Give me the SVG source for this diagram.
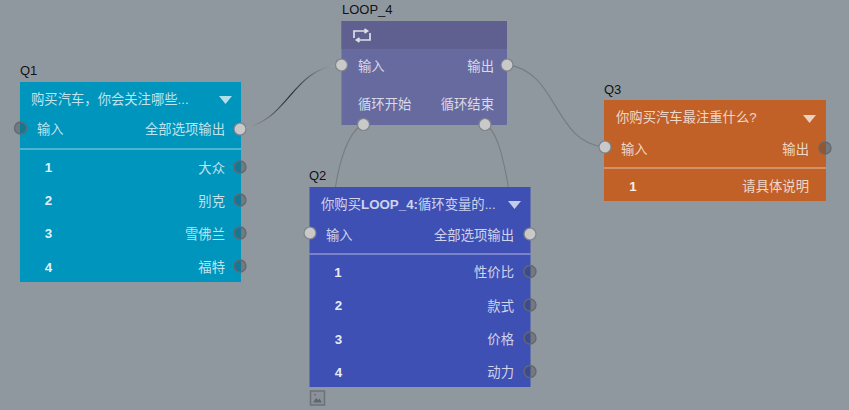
<svg xmlns="http://www.w3.org/2000/svg" width="849" height="410" viewBox="0 0 849 410">
<style>
text{font-family:"Liberation Sans","Noto Sans CJK SC",sans-serif;font-size:13.330px;fill:#fff;fill-opacity:.75}
.id{fill:#000;fill-opacity:.9;font-size:13px}
.n{font-weight:bold;fill-opacity:.9;text-anchor:middle}
.e{text-anchor:end}
.sep{fill:#fff;fill-opacity:.3}
.on{fill:#c9c9c9;stroke:#7d8389;stroke-width:1.200}
.off{fill:#3a4147;fill-opacity:.34;stroke:#62696f;stroke-width:1.300}
.tri{fill:#fff;fill-opacity:.7}
.c{fill:none;stroke:#777c80;stroke-width:1.100}
</style>
<defs>
<linearGradient id="dk" gradientUnits="userSpaceOnUse" x1="245" y1="128" x2="336" y2="66">
<stop offset="0" stop-color="#a3a3a3"/><stop offset=".5" stop-color="#222630"/><stop offset="1" stop-color="#a3a3a3"/>
</linearGradient>
</defs>
<rect width="849" height="410" fill="#8f979f"/>
<g id="connectors">
<path class="c" style="stroke:url(#dk)" d="M240 129C290 122 290 68 341 65"/>
<path class="c" d="M507 65C558 70 553 143 605 147"/>
<path class="c" d="M363 124C348 132 339 162 335 190"/>
<path class="c" d="M485 124C498 131 504 162 509 190"/>
</g>
<g id="Q1">
<text class="id" x="20" y="75">Q1</text>
<rect x="20" y="82" width="221" height="200" fill="#0095bd"/>
<text x="31" y="104">购买汽车，你会关注哪些...</text>
<path class="tri" d="M219 96H232L225.500 104Z"/>
<text x="37" y="134">输入</text>
<text class="e" x="225" y="134">全部选项输出</text>
<rect class="sep" x="20" y="148" width="221" height="2"/>
<text class="n" x="48.500" y="172">1</text><text class="e" x="225" y="173">大众</text>
<text class="n" x="48.500" y="205">2</text><text class="e" x="225" y="206">别克</text>
<text class="n" x="48.500" y="238">3</text><text class="e" x="225" y="239">雪佛兰</text>
<text class="n" x="48.500" y="272">4</text><text class="e" x="225" y="272">福特</text>
<circle class="off" cx="20.500" cy="128" r="6"/>
<circle class="on" cx="240" cy="129" r="6"/>
<circle class="off" cx="240" cy="167" r="6"/>
<circle class="off" cx="240" cy="200" r="6"/>
<circle class="off" cx="240" cy="233" r="6"/>
<circle class="off" cx="240" cy="266" r="6"/>
</g>
<g id="LOOP_4">
<text class="id" x="342" y="14">LOOP_4</text>
<rect x="341.500" y="21" width="165.500" height="104" fill="#676a9f"/>
<rect x="341.500" y="21" width="165.500" height="28" fill="#5f6090"/>
<path d="M354 38V31H367M364.500 29L367.500 31L364.500 33M370 33V40H357M359.500 38L356.500 40L359.500 42" fill="none" stroke="#fff" stroke-opacity=".8" stroke-width="1.700"/>
<text x="358" y="71">输入</text>
<text class="e" x="494" y="71">输出</text>
<text x="358" y="109">循环开始</text>
<text class="e" x="494" y="109">循环结束</text>
<circle class="on" cx="341.500" cy="65" r="6"/>
<circle class="on" cx="507" cy="65" r="6"/>
<circle class="on" cx="363.500" cy="124.500" r="6"/>
<circle class="on" cx="485" cy="124.500" r="6"/>
</g>
<g id="Q2">
<text class="id" x="309" y="180">Q2</text>
<rect x="309.500" y="187" width="221" height="200" fill="#3f50b5"/>
<text x="321" y="209">你购买<tspan font-weight="bold">LOOP_4:</tspan>循环变量的...</text>
<path class="tri" d="M508 201H521L514.500 209Z"/>
<text x="326" y="240">输入</text>
<text class="e" x="514" y="240">全部选项输出</text>
<rect class="sep" x="309.500" y="253" width="221" height="2"/>
<text class="n" x="338" y="277">1</text><text class="e" x="514" y="277">性价比</text>
<text class="n" x="338.500" y="310">2</text><text class="e" x="514" y="311">款式</text>
<text class="n" x="338.500" y="344">3</text><text class="e" x="514" y="344">价格</text>
<text class="n" x="338.500" y="377">4</text><text class="e" x="514" y="377">动力</text>
<circle class="on" cx="310" cy="233" r="6"/>
<circle class="on" cx="530" cy="234" r="6"/>
<circle class="off" cx="530" cy="271.500" r="6"/>
<circle class="off" cx="530" cy="305" r="6"/>
<circle class="off" cx="530" cy="338" r="6"/>
<circle class="off" cx="530" cy="371.500" r="6"/>
<rect x="310.500" y="391" width="14" height="14" fill="#8a9199" stroke="#6b7179" stroke-width="1.500"/>
<path d="M313 402.500L316 398L318 400L319.500 398.500L322 402.500Z" fill="#5f666e"/>
<circle cx="315" cy="394.800" r="1" fill="#6b7179"/>
</g>
<g id="Q3">
<text class="id" x="604" y="94">Q3</text>
<rect x="604" y="100" width="222" height="101" fill="#c26127"/>
<text x="616" y="122">你购买汽车最注重什么?</text>
<path class="tri" d="M803 115H816L809.500 123Z"/>
<text x="621" y="154">输入</text>
<text class="e" x="809" y="154">输出</text>
<rect class="sep" x="604" y="167" width="222" height="2"/>
<text class="n" x="633" y="191">1</text><text class="e" x="809" y="191">请具体说明</text>
<circle class="on" cx="605" cy="147" r="6"/>
<circle class="off" cx="825" cy="148" r="6"/>
</g>
</svg>
